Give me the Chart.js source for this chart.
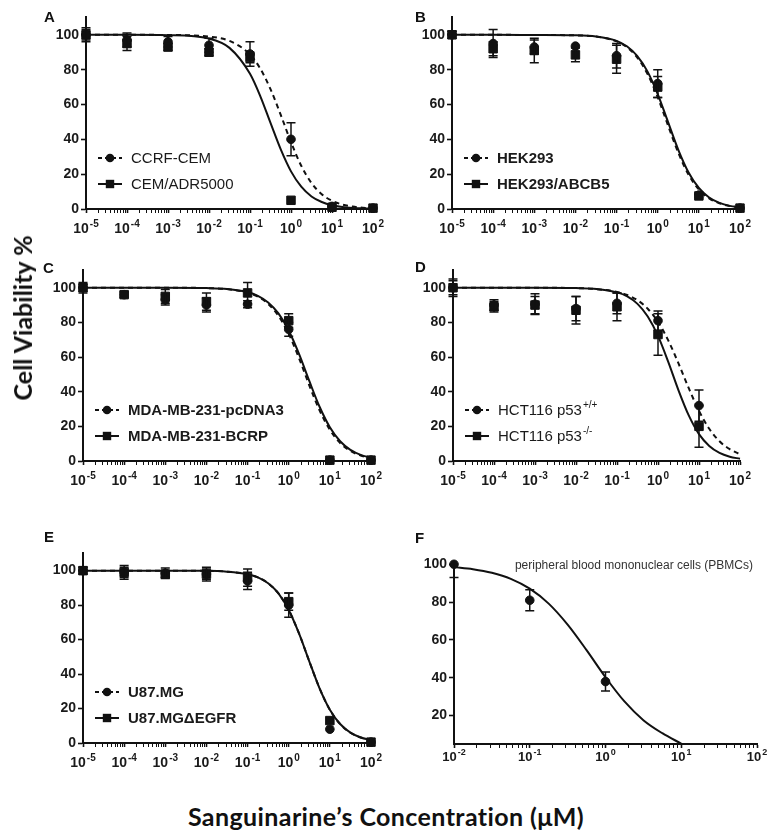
<!DOCTYPE html>
<html>
<head>
<meta charset="utf-8">
<script src="https://cdn.jsdelivr.net/npm/chart.js@4.4.1/dist/chart.umd.min.js"></script>
<style>
html,body{margin:0;padding:0;background:#fff;}
#wrap{position:relative;width:773px;height:831px;overflow:hidden;font-family:"Liberation Sans",Arial,sans-serif;color:#111;}
canvas{position:absolute;}
.letter{position:absolute;font:bold 15px "Liberation Sans",Arial,sans-serif;line-height:1;color:#111;}
#ytitle{position:absolute;left:22px;top:318px;transform:translate(-50%,-50%) rotate(-90deg);white-space:nowrap;font:bold 25px Lato,"Open Sans",sans-serif;color:#111;}
#xtitle{position:absolute;left:386px;top:816px;transform:translate(-50%,-50%);white-space:nowrap;font:bold 25px Lato,"Open Sans",sans-serif;letter-spacing:0.4px;color:#111;}
#pbmc{position:absolute;right:20px;top:558px;white-space:nowrap;font:12px "Liberation Sans",Arial,sans-serif;color:#333;line-height:14px;}
</style>
</head>
<body>
<div id="wrap">
  <canvas id="cA"></canvas><canvas id="cB"></canvas>
  <canvas id="cC"></canvas><canvas id="cD"></canvas>
  <canvas id="cE"></canvas><canvas id="cF"></canvas>
  <div class="letter" style="left:44px;top:9px">A</div>
  <div class="letter" style="left:415px;top:9px">B</div>
  <div class="letter" style="left:43px;top:260px">C</div>
  <div class="letter" style="left:415px;top:259px">D</div>
  <div class="letter" style="left:44px;top:529px">E</div>
  <div class="letter" style="left:415px;top:530px">F</div>
  <div id="ytitle">Cell Viability %</div>
  <div id="xtitle">Sanguinarine’s Concentration (μM)</div>
  <div id="pbmc">peripheral blood mononuclear cells (PBMCs)</div>
</div>
<script>
// ---------- DATA ----------
// dose exponents (x = 10^exp, µM)
const doseExps  = [-5, -4, -3, -2, -1, 0, 1, 2];
const doseExpsD = [-5, -4, -3, -2, -1, 0, 1];
const doseExpsF = [-2, -1, 0];
const curveExps  = [-5, -4, -3, -2, -1.5, -1, -0.75, -0.5, -0.25, 0, 0.25, 0.5, 0.75, 1, 1.25, 1.5, 1.75, 2];
const curveExpsF = [-2, -1.75, -1.5, -1.25, -1, -0.75, -0.5, -0.25, 0, 0.25, 0.5, 0.75, 1];

// x tick labels
const xTickExpsMain = [-5, -4, -3, -2, -1, 0, 1, 2];
const xTickSupMain  = ['-5', '-4', '-3', '-2', '-1', '0', '1', '2'];
const xTickExpsF    = [-2, -1, 0, 1, 2];
const xTickSupF     = ['-2', '-1', '0', '1', '2'];
const yTicksMain = [0, 20, 40, 60, 80, 100];
const yTicksF    = [20, 40, 60, 80, 100];

// Panel A
const seriesA = ['CCRF-CEM', 'CEM/ADR5000'];
const aCcrfMean = [100, 97, 96, 94, 89, 40, 1.5, 0.5];
const aCcrfSD   = [4, 4, 3, 4, 7, 9.5, 0, 0];
const aAdrMean  = [100, 95, 93, 90, 87, 5, 1, 0.5];
const aAdrSD    = [3, 4, 2, 2, 3, 0, 0, 0];
const aCcrfFit  = [100, 100, 99.9, 99.0, 96.5, 88.7, 80.6, 68.8, 54.0, 38.4, 24.8, 14.9, 8.5, 4.7, 2.6, 1.4, 0.7, 0.4];
const aAdrFit   = [100, 100, 99.8, 97.8, 92.5, 77.6, 64.8, 49.4, 34.2, 21.6, 12.8, 7.2, 4.0, 2.1, 1.1, 0.6, 0.35, 0.2];

// Panel B
const seriesB = ['HEK293', 'HEK293/ABCB5'];
const bHekMean  = [100, 95, 93, 93.5, 88, 72, 8, 0.5];
const bHekSD    = [2, 8, 4, 0, 7, 8, 0, 0];
const bAbcMean  = [100, 92, 91, 88.5, 86, 70, 7.5, 0.5];
const bAbcSD    = [2, 4, 7, 4, 8, 6, 1, 0];
const bHekFit   = [100, 100, 99.9, 99.7, 99.0, 96.2, 92.9, 87.1, 77.6, 64.2, 48.0, 32.3, 19.7, 11.2, 6.1, 3.3, 1.7, 0.9];
const bAbcFit   = [100, 100, 99.9, 99.7, 99.0, 96.5, 93.4, 87.9, 79.0, 66.0, 50.0, 34.0, 21.0, 12.1, 6.6, 3.5, 1.8, 1.0];

// Panel C
const seriesC = ['MDA-MB-231-pcDNA3', 'MDA-MB-231-BCRP'];
const cPcMean   = [100, 96, 93, 90, 90.5, 76, 0.5, 0.5];
const cPcSD     = [2, 1.5, 3, 4, 2, 4, 0, 0];
const cBcMean   = [100, 96, 95, 92, 97, 81, 0.5, 0.5];
const cBcSD     = [3, 1.5, 4, 5, 6, 4, 0, 0];
const cPcFit    = [100, 100, 100, 99.8, 99.2, 97.2, 94.8, 90.7, 83.8, 73.4, 59.4, 43.7, 29.2, 18.0, 10.4, 5.8, 3.2, 1.7];
const cBcFit    = [100, 100, 100, 99.8, 99.3, 97.5, 95.3, 91.5, 85.2, 75.3, 61.8, 46.2, 31.3, 19.5, 11.4, 6.4, 3.5, 1.9];

// Panel D
const seriesD = ['HCT116 p53', 'HCT116 p53'];
const seriesDSup = ['+/+', '-/-'];
const dWtMean   = [100, 90, 90.5, 88, 91, 81, 32];
const dWtSD     = [4, 3, 6, 7, 6, 5.5, 9];
const dKoMean   = [100, 89, 90, 87, 89, 73, 20];
const dKoSD     = [5, 3, 5, 8, 8, 12, 12];
const dWtFit    = [100, 100, 100, 99.8, 99.2, 97.6, 95.8, 92.8, 87.9, 80.3, 69.6, 56.3, 42.0, 28.9, 18.6, 11.4, 6.8, 3.9];
const dKoFit    = [100, 100, 100, 99.8, 99.3, 97.3, 95.0, 90.7, 83.4, 72.2, 57.2, 40.8, 26.3, 15.5, 8.7, 4.7, 2.5, 1.3];

// Panel E
const seriesE = ['U87.MG', 'U87.MGΔEGFR'];
const eMgMean   = [100, 99, 98.5, 98, 94, 80, 8, 0.5];
const eMgSD     = [2, 4, 3, 4, 5, 7, 0, 0];
const eDeMean   = [100, 99, 98, 98, 96, 82, 13, 0.5];
const eDeSD     = [2, 3, 2, 3, 5, 5, 0, 0];
const eMgFit    = [100, 100, 100, 99.9, 99.4, 97.9, 96.1, 92.7, 86.8, 77.2, 63.6, 47.4, 31.7, 19.3, 11.0, 6.0, 3.2, 1.7];
const eDeFit    = [100, 100, 100, 99.9, 99.4, 97.9, 96.1, 92.7, 86.8, 77.2, 63.6, 47.4, 31.7, 19.3, 11.0, 6.0, 3.2, 1.7];

// Panel F
const fPbmcMean = [100, 81, 38];
const fPbmcSD   = [7, 5.5, 5];
const fPbmcFit  = [98.5, 97.4, 95.5, 92.3, 87.1, 79.2, 68.1, 54.6, 40.3, 27.5, 17.6, 10.7, 5.2];

// ---------- HELPERS ----------
const INK = '#111';
function pts(exps, vals) { return exps.map((e, i) => ({ x: Math.pow(10, e), y: vals[i] })); }
function marks(exps, vals, sd, style) {
  return { data: pts(exps, vals), errors: sd, showLine: false, pointStyle: style,
    pointRadius: style === 'rect' ? 6 : 4.3, pointBorderWidth: 1,
    backgroundColor: INK, borderColor: INK, order: 0, clip: false };
}
function fit(exps, vals, dashed) {
  return { data: pts(exps, vals), showLine: true, pointRadius: 0, borderColor: INK, borderWidth: 2,
    borderDash: dashed ? [5, 4] : [], cubicInterpolationMode: 'monotone', fill: false, order: 1, clip: false };
}

const errorBars = {
  id: 'errorBars',
  afterDatasetsDraw(chart) {
    const ctx = chart.ctx, ys = chart.scales.y, ca = chart.chartArea;
    ctx.save();
    ctx.beginPath();
    ctx.rect(ca.left - 10, ca.top, ca.right - ca.left + 20, ca.bottom - ca.top + 6);
    ctx.clip();
    ctx.strokeStyle = INK; ctx.lineWidth = 1.5;
    chart.data.datasets.forEach((ds, i) => {
      if (!ds.errors) return;
      const meta = chart.getDatasetMeta(i);
      meta.data.forEach((el, j) => {
        const e = ds.errors[j]; if (!e) return;
        const v = ds.data[j].y;
        const yt = ys.getPixelForValue(v + e), yb = ys.getPixelForValue(v - e);
        ctx.beginPath();
        ctx.moveTo(el.x, yt); ctx.lineTo(el.x, yb);
        ctx.moveTo(el.x - 4.5, yt); ctx.lineTo(el.x + 4.5, yt);
        ctx.moveTo(el.x - 4.5, yb); ctx.lineTo(el.x + 4.5, yb);
        ctx.stroke();
      });
    });
    ctx.restore();
  }
};

function makeLegend(items, font) {
  return {
    id: 'insideLegend',
    afterDraw(chart) {
      if (!items) return;
      const ca = chart.chartArea, ctx = chart.ctx;
      const rows = [51, 25];
      ctx.save();
      items.forEach((it, i) => {
        const cy = ca.bottom - rows[i];
        const x0 = ca.left + 12;
        ctx.strokeStyle = INK; ctx.lineWidth = 2; ctx.setLineDash(it.dash);
        ctx.beginPath(); ctx.moveTo(x0, cy); ctx.lineTo(x0 + 24, cy); ctx.stroke();
        ctx.setLineDash([]);
        ctx.fillStyle = INK;
        const mx = x0 + 12;
        if (it.point === 'circle') { ctx.beginPath(); ctx.arc(mx, cy, 4.3, 0, Math.PI * 2); ctx.fill(); }
        else { ctx.fillRect(mx - 4.2, cy - 4.2, 8.4, 8.4); }
        ctx.font = font; ctx.textBaseline = 'middle'; ctx.textAlign = 'left';
        ctx.fillStyle = '#1a1a1a';
        ctx.fillText(it.text, x0 + 33, cy + 1);
        if (it.sup) {
          const w = ctx.measureText(it.text).width;
          ctx.font = '10px "Liberation Sans", Arial, sans-serif';
          ctx.fillText(it.sup, x0 + 33 + w + 1, cy - 5);
        }
      });
      ctx.restore();
    }
  };
}

function makeExpTicks(exps, sups, baseOff, size) {
  return {
    id: 'expTicks',
    afterDraw(chart) {
      const s = chart.scales.x, ctx = chart.ctx, by = chart.chartArea.bottom + baseOff;
      const big = 'bold ' + size + 'px "Liberation Sans", Arial, sans-serif';
      const small = 'bold ' + Math.round(size * 0.68) + 'px "Liberation Sans", Arial, sans-serif';
      ctx.save();
      ctx.fillStyle = '#1a1a1a'; ctx.textAlign = 'left'; ctx.textBaseline = 'alphabetic';
      exps.forEach((e, i) => {
        const px = s.getPixelForValue(Math.pow(10, e));
        ctx.font = big; const wb = ctx.measureText('10').width;
        ctx.font = small; const we = ctx.measureText(sups[i]).width;
        const x0 = px - (wb + we + 1) / 2;
        ctx.font = big; ctx.fillText('10', x0, by);
        ctx.font = small; ctx.fillText(sups[i], x0 + wb + 1, by - 6);
      });
      ctx.restore();
    }
  };
}

function makeChart(cfg) {
  const cv = document.getElementById(cfg.id);
  cv.width = cfg.w; cv.height = cfg.h;
  cv.style.left = cfg.left + 'px'; cv.style.top = cfg.top + 'px';
  cv.style.width = cfg.w + 'px'; cv.style.height = cfg.h + 'px';
  new Chart(cv, {
    type: 'line',
    data: { datasets: cfg.datasets },
    options: {
      responsive: false, animation: false, devicePixelRatio: 1,
      layout: { padding: { top: 10, right: cfg.padRight, left: 0, bottom: 0 } },
      plugins: { legend: { display: false }, tooltip: { enabled: false } },
      scales: {
        x: {
          type: 'logarithmic', min: Math.pow(10, cfg.xMin), max: Math.pow(10, cfg.xMax),
          afterBuildTicks: s => {
            const t = [];
            for (let e = cfg.xMin; e < cfg.xMax; e++)
              for (let k = 1; k < 10; k++) t.push({ value: k * Math.pow(10, e), major: k === 1 });
            t.push({ value: Math.pow(10, cfg.xMax), major: true });
            s.ticks = t;
          },
          afterFit: s => { s.height = 28; },
          ticks: { autoSkip: false, maxRotation: 0, minRotation: 0, callback: () => '' },
          grid: { drawOnChartArea: false, drawTicks: true, tickLength: 4, tickColor: INK,
                  tickWidth: c => (c.tick && c.tick.major) ? 1.6 : 1 },
          border: { display: true, color: INK, width: 2 }
        },
        y: {
          type: 'linear', min: cfg.yMin, max: cfg.yMax,
          afterBuildTicks: s => { s.ticks = cfg.yTicks.map(v => ({ value: v })); },
          afterFit: s => { s.width = 50; },
          ticks: { color: '#1a1a1a', padding: 2, font: { family: '"Liberation Sans", Arial, sans-serif', weight: 'bold', size: 14 } },
          grid: { drawOnChartArea: false, drawTicks: true, tickLength: 5, tickColor: INK, tickWidth: 1.6 },
          border: { display: true, color: INK, width: 2 }
        }
      }
    },
    plugins: [errorBars, makeLegend(cfg.legend, cfg.legendFont), makeExpTicks(cfg.xExps, cfg.xSups, cfg.labelOff, cfg.labelSize)]
  });
}

const REG = '15px "Liberation Sans", Arial, sans-serif';
const BOLD = 'bold 15px "Liberation Sans", Arial, sans-serif';

makeChart({ id: 'cA', left: 36, top: 7, w: 353, h: 230, padRight: 16, xMin: -5, xMax: 2, yMin: 0, yMax: 110,
  yTicks: yTicksMain, xExps: xTickExpsMain, xSups: xTickSupMain, labelOff: 24, labelSize: 14,
  datasets: [marks(doseExps, aCcrfMean, aCcrfSD, 'circle'), marks(doseExps, aAdrMean, aAdrSD, 'rect'),
             fit(curveExps, aCcrfFit, true), fit(curveExps, aAdrFit, false)],
  legend: [{ text: seriesA[0], dash: [4, 3], point: 'circle' }, { text: seriesA[1], dash: [], point: 'rect' }], legendFont: REG });

makeChart({ id: 'cB', left: 402, top: 7, w: 354, h: 230, padRight: 16, xMin: -5, xMax: 2, yMin: 0, yMax: 110,
  yTicks: yTicksMain, xExps: xTickExpsMain, xSups: xTickSupMain, labelOff: 24, labelSize: 14,
  datasets: [marks(doseExps, bHekMean, bHekSD, 'circle'), marks(doseExps, bAbcMean, bAbcSD, 'rect'),
             fit(curveExps, bHekFit, true), fit(curveExps, bAbcFit, false)],
  legend: [{ text: seriesB[0], dash: [4, 3], point: 'circle' }, { text: seriesB[1], dash: [], point: 'rect' }], legendFont: BOLD });

makeChart({ id: 'cC', left: 33, top: 260, w: 354, h: 229, padRight: 16, xMin: -5, xMax: 2, yMin: 0, yMax: 110,
  yTicks: yTicksMain, xExps: xTickExpsMain, xSups: xTickSupMain, labelOff: 24, labelSize: 14,
  datasets: [marks(doseExps, cPcMean, cPcSD, 'circle'), marks(doseExps, cBcMean, cBcSD, 'rect'),
             fit(curveExps, cPcFit, true), fit(curveExps, cBcFit, false)],
  legend: [{ text: seriesC[0], dash: [4, 3], point: 'circle' }, { text: seriesC[1], dash: [], point: 'rect' }], legendFont: BOLD });

makeChart({ id: 'cD', left: 403, top: 260, w: 353, h: 229, padRight: 16, xMin: -5, xMax: 2, yMin: 0, yMax: 110,
  yTicks: yTicksMain, xExps: xTickExpsMain, xSups: xTickSupMain, labelOff: 24, labelSize: 14,
  datasets: [marks(doseExpsD, dWtMean, dWtSD, 'circle'), marks(doseExpsD, dKoMean, dKoSD, 'rect'),
             fit(curveExps, dWtFit, true), fit(curveExps, dKoFit, false)],
  legend: [{ text: seriesD[0], sup: seriesDSup[0], dash: [4, 3], point: 'circle' }, { text: seriesD[1], sup: seriesDSup[1], dash: [], point: 'rect' }], legendFont: REG });

makeChart({ id: 'cE', left: 33, top: 543, w: 354, h: 228, padRight: 16, xMin: -5, xMax: 2, yMin: 0, yMax: 110,
  yTicks: yTicksMain, xExps: xTickExpsMain, xSups: xTickSupMain, labelOff: 24, labelSize: 14,
  datasets: [marks(doseExps, eMgMean, eMgSD, 'circle'), marks(doseExps, eDeMean, eDeSD, 'rect'),
             fit(curveExps, eMgFit, true), fit(curveExps, eDeFit, false)],
  legend: [{ text: seriesE[0], dash: [4, 3], point: 'circle' }, { text: seriesE[1], dash: [], point: 'rect' }], legendFont: BOLD });

makeChart({ id: 'cF', left: 404, top: 552, w: 367, h: 220, padRight: 14, xMin: -2, xMax: 2, yMin: 5, yMax: 101,
  yTicks: yTicksF, xExps: xTickExpsF, xSups: xTickSupF, labelOff: 17, labelSize: 13,
  datasets: [marks(doseExpsF, fPbmcMean, fPbmcSD, 'circle'), fit(curveExpsF, fPbmcFit, false)],
  legend: null, legendFont: REG });
</script>
</body>
</html>
